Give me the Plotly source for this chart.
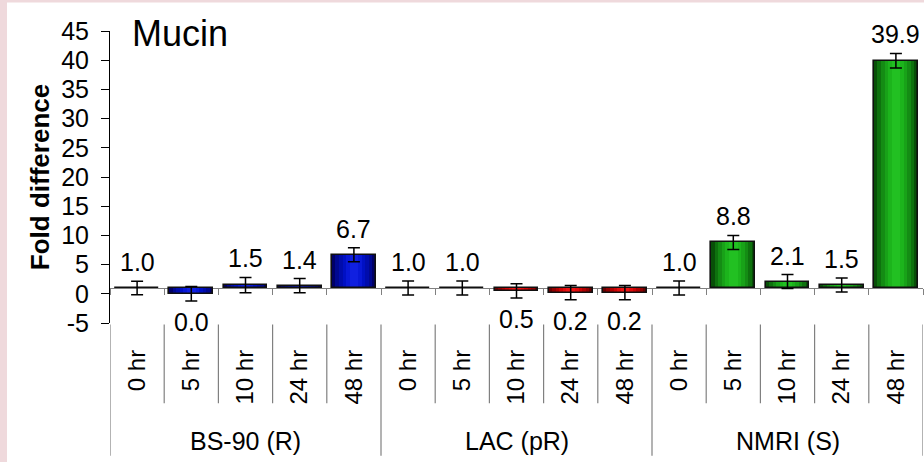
import plotly.graph_objects as go

# ---- data -------------------------------------------------------------
groups = ["BS-90 (R)", "LAC (pR)", "NMRI (S)"]
times = ["0 hr", "5 hr", "10 hr", "24 hr", "48 hr"]

bs90 = [1.0, 0.0, 1.5, 1.4, 6.7]
lac = [1.0, 1.0, 0.5, 0.2, 0.2]
nmri = [1.0, 8.8, 2.1, 1.5, 39.9]

bs90_err = [1.15, 1.25, 1.3, 1.2, 1.2]
lac_err = [1.2, 1.2, 1.2, 1.2, 1.2]
nmri_err = [1.2, 1.2, 1.2, 1.2, 1.25]

y_ticks = list(range(-5, 50, 5))
y_ticktext = [str(t) for t in y_ticks]  # plain hyphen for negatives
baseline = 1.0  # bars grow from a fold difference of 1

# ---- styling ------------------------------------------------------------
FONT = "Liberation Sans, Arial, sans-serif"
# gradient bands for each group: outer (dark) -> inner (bright)
shades = {
    "BS-90 (R)": ["#000068", "#000890", "#000CAC", "#0010C4", "#0818D6", "#1020E0"],
    "LAC (pR)": ["#680000", "#900000", "#B00000", "#CC0404", "#E00C0C", "#EE1414"],
    "NMRI (S)": ["#085008", "#0E720E", "#148C14", "#18A218", "#1CB41C", "#22C022"],
}
band_widths = [0.81, 0.68, 0.55, 0.42, 0.29, 0.16]

series = [(groups[0], bs90, bs90_err), (groups[1], lac, lac_err), (groups[2], nmri, nmri_err)]

values, errors, colors_by_band = [], [], [[] for _ in band_widths]
for name, vals, errs in series:
    values += vals
    errors += errs
    for k in range(len(band_widths)):
        colors_by_band[k] += [shades[name][k]] * len(vals)

n = len(values)
xs = list(range(n))
lengths = [v - baseline for v in values]

fig = go.Figure()

# shaded bar bodies
for k, w in enumerate(band_widths):
    fig.add_trace(go.Bar(
        x=xs, y=lengths, base=[baseline] * n, width=w,
        marker=dict(color=colors_by_band[k], line=dict(width=0)),
        hoverinfo="skip", showlegend=False,
    ))

# outline + error bars
fig.add_trace(go.Bar(
    x=xs, y=lengths, base=[baseline] * n, width=band_widths[0],
    marker=dict(color="rgba(0,0,0,0)", line=dict(color="#101010", width=1.6)),
    error_y=dict(type="data", array=errors, visible=True, color="black",
                 thickness=1.5, width=6),
    customdata=values,
    hovertemplate="%{customdata:.1f}<extra></extra>",
    showlegend=False,
))

# value labels: above the error bar for gains, below for losses
annotations = []
for i, (v, e) in enumerate(zip(values, errors)):
    above = v >= baseline
    annotations.append(dict(
        x=i, y=v + e if above else v - e, xref="x", yref="y",
        text=f"{v:.1f}", showarrow=False,
        yanchor="bottom" if above else "top",
        yshift=3 if above else -5,
        font=dict(family=FONT, size=25, color="black"),
    ))

# group labels under the time labels
for g, name in enumerate(groups):
    annotations.append(dict(
        x=g * len(times) + (len(times) - 1) / 2, y=-0.405, xref="x", yref="paper",
        text=name, showarrow=False, yanchor="middle",
        font=dict(family=FONT, size=25, color="black"),
    ))

# chart title
annotations.append(dict(
    x=0.024, y=0.99, xref="paper", yref="paper", text="Mucin",
    showarrow=False, xanchor="left", yanchor="middle",
    font=dict(family=FONT, size=36, color="black"),
))

# divider lines between time points and between groups
shapes = []
for b in range(n + 1):
    xb = b - 0.5
    is_group_edge = b % len(times) == 0
    shapes.append(dict(
        type="line", xref="x", yref="paper", x0=xb, x1=xb,
        y0=-0.005, y1=-0.455 if is_group_edge else -0.275,
        line=dict(color="#808080", width=1.2),
    ))

# pink page border along the left and top edges
shapes.append(dict(type="rect", xref="paper", yref="paper",
                   x0=-0.2, x1=(7 - 110) / 813, y0=-0.6, y1=1.2,
                   fillcolor="#EFD9DC", line=dict(width=0), layer="below"))
shapes.append(dict(type="rect", xref="paper", yref="paper",
                   x0=-0.2, x1=1.1, y0=(323 - 2.5) / 292, y1=1.2,
                   fillcolor="#EFD9DC", line=dict(width=0), layer="below"))

fig.update_layout(
    width=924, height=462,
    margin=dict(l=110, r=1, t=31, b=139),
    paper_bgcolor="white", plot_bgcolor="white",
    barmode="overlay", bargap=0,
    font=dict(family=FONT, size=24, color="black"),
    annotations=annotations, shapes=shapes,
    xaxis=dict(
        range=[-0.5, n - 0.5], tickmode="array", tickvals=xs,
        ticktext=times * len(groups), tickangle=-90,
        ticks="", showline=False, showgrid=False, zeroline=False,
        ticklabelstandoff=21, tickfont=dict(family=FONT, size=24),
    ),
    xaxis2=dict(
        overlaying="x", matches="x", anchor="free",
        position=(baseline - y_ticks[0]) / (y_ticks[-1] - y_ticks[0]),
        tickmode="array", tickvals=[b - 0.5 for b in range(n + 1)],
        showticklabels=False, ticks="outside", ticklen=6,
        tickcolor="#808080", showline=True, linecolor="#808080",
        linewidth=1.2, showgrid=False, zeroline=False, layer="below traces",
    ),
    yaxis=dict(
        range=[y_ticks[0], y_ticks[-1]], tickmode="array", tickvals=y_ticks,
        ticktext=y_ticktext,
        ticks="outside", ticklen=8, tickcolor="black",
        showline=True, linecolor="black", linewidth=1,
        showgrid=False, zeroline=False, ticklabelstandoff=7,
        tickfont=dict(family=FONT, size=25),
        title=dict(text="<b>Fold difference</b>", standoff=4,
                   font=dict(family=FONT, size=26)),
    ),
)

# an invisible trace pinned to the overlay axis so it is drawn
fig.add_trace(go.Scatter(x=[xs[0]], y=[baseline], xaxis="x2", mode="markers",
                         marker=dict(opacity=0), hoverinfo="skip", showlegend=False))

fig.write_html("out.html")
